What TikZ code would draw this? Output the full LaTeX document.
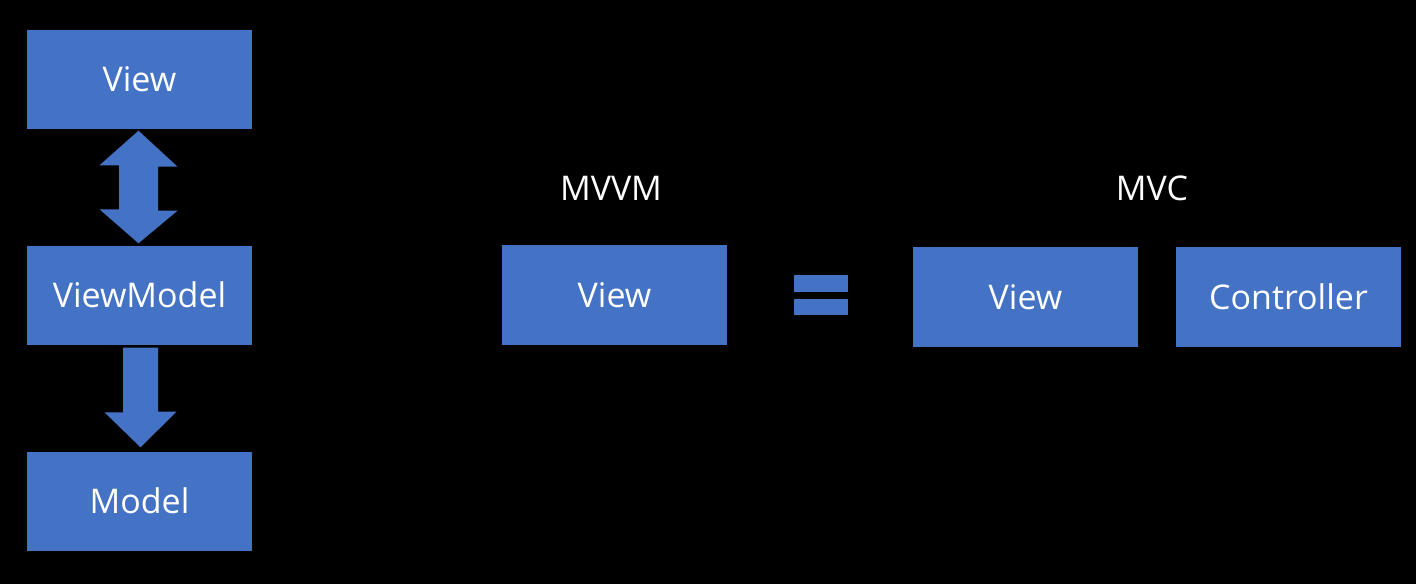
\documentclass[tikz,border=0pt]{standalone}
\usepackage{fontspec}
\setmainfont{Open Sans}
\usetikzlibrary{calc}
\definecolor{boxblue}{HTML}{4472C4}
\tikzset{
  blk/.style={fill=boxblue, draw=none, text=white, minimum width=225pt, minimum height=99pt, inner sep=0pt, font=\fontsize{34}{40}\selectfont},
  lbl/.style={text=white, inner sep=0pt, font=\fontsize{34}{40}\selectfont},
  shape arrow/.style={fill=boxblue, draw=none}
}
\begin{document}
\begin{tikzpicture}[x=1pt,y=-1pt]
\fill[black] (0,0) rectangle (1416,584);
\useasboundingbox (0,0) rectangle (1416,584);
% left column
\node[blk] (v1) at (139.5,79) {View};
\node[blk] (vm) at (139.5,295) {ViewModel};
\node[blk] (m) at (139.5,501) {Model};
% double arrow between View and ViewModel
\fill[shape arrow] ($(v1.south)+(-1,2)$) -- ++(39,36) -- ++(-19.5,0) -- ++(0,44) -- ++(19.5,0)
  -- ($(vm.north)+(-1,-2)$) -- ++(-39,-34) -- ++(19.5,0) -- ++(0,-44) -- ++(-19.5,0) -- cycle;
% single arrow down
\fill[shape arrow] ($(vm.south)+(-16.5,3)$) -- ++(35,0) -- ++(0,64) -- ++(18.5,0)
  -- ($(m.north)+(1,-4)$) -- ++(-36,-35) -- ++(18.5,0) -- cycle;
% MVVM
\node[lbl] (mvvm) at (611,188) {MVVM};
\node[blk, minimum height=100pt] (v2) at (614.5,295) {View};
% equals
\coordinate (eq) at (821,295);
\fill[boxblue] ($(eq)+(-27,-20)$) rectangle ($(eq)+(27,-3)$);
\fill[boxblue] ($(eq)+(-27,4)$) rectangle ($(eq)+(27,20)$);
% MVC
\node[lbl] (mvc) at (1152,188) {MVC};
\node[blk, minimum height=100pt] (v3) at (1025.5,297) {View};
\node[blk, minimum height=100pt] (c) at (1288.5,297) {Controller};
\end{tikzpicture}
\end{document}
